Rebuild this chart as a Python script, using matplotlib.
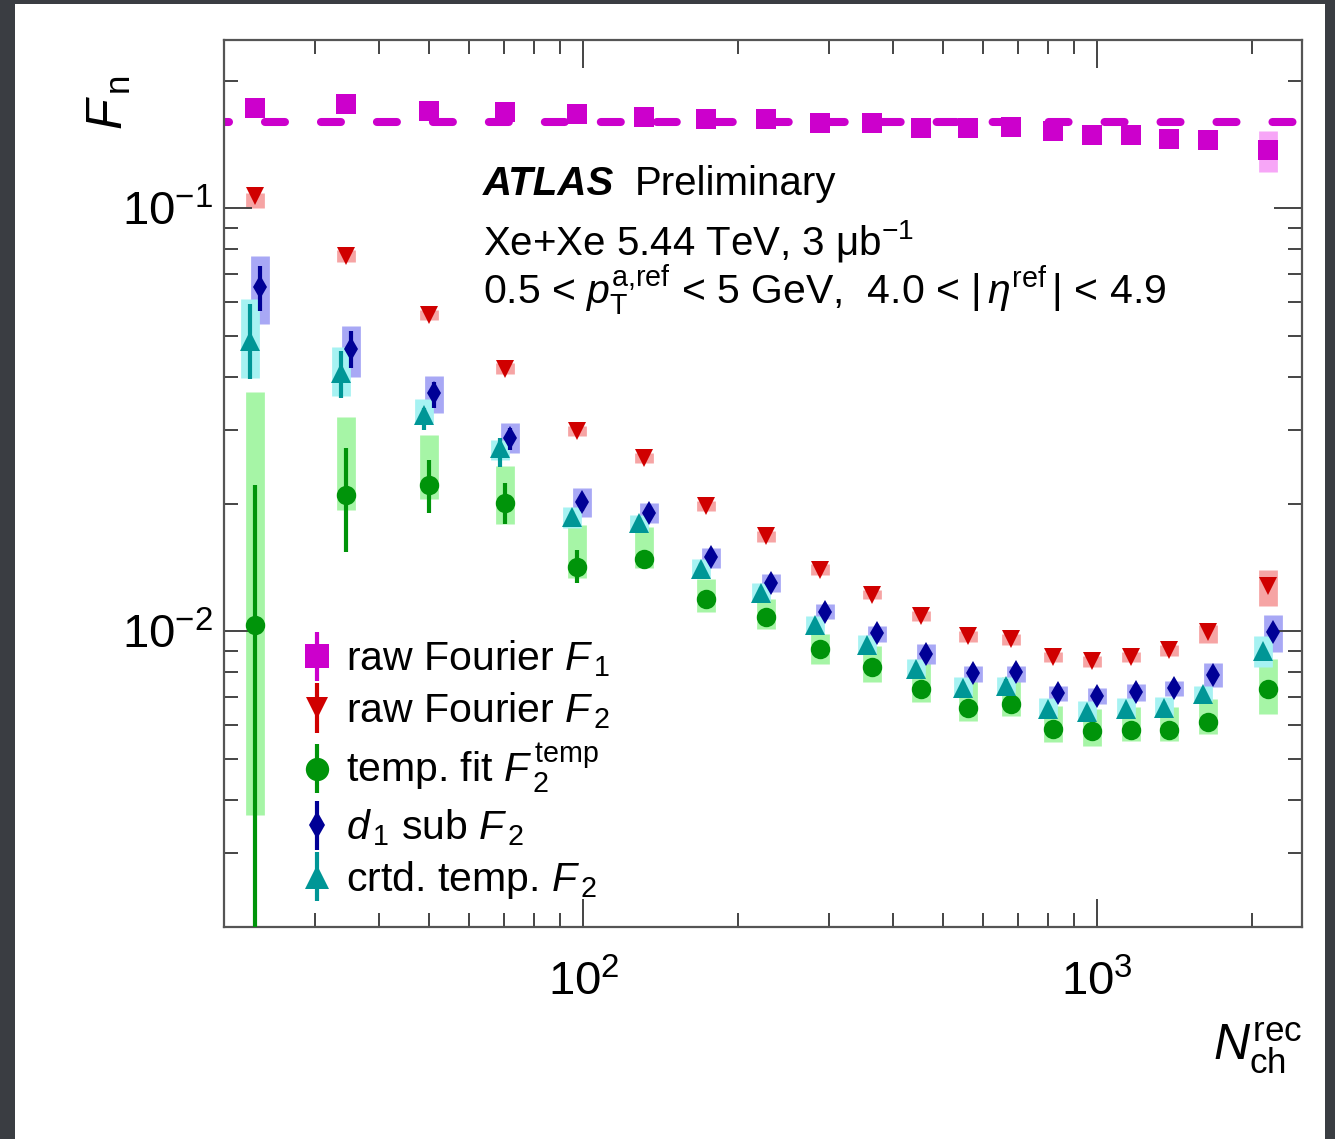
import matplotlib
matplotlib.use('Agg')
import matplotlib.pyplot as plt
import matplotlib.transforms as mtransforms
from matplotlib.ticker import NullFormatter, LogFormatterSciNotation, LogLocator
from matplotlib.legend_handler import HandlerErrorbar
from matplotlib.container import ErrorbarContainer

plt.rcParams['font.family'] = ['Liberation Sans', 'DejaVu Sans']
plt.rcParams['mathtext.fontset'] = 'custom'
plt.rcParams['mathtext.rm'] = 'Liberation Sans'
plt.rcParams['mathtext.it'] = 'Liberation Sans:italic'
plt.rcParams['mathtext.bf'] = 'Liberation Sans:bold'
plt.rcParams['lines.scale_dashes'] = False

# N_ch^rec bin centres
nch = [23, 34.5, 50, 70.5, 97, 131, 173, 227, 289, 364, 453, 559, 678, 818, 978, 1164, 1380, 1643, 2148]

# raw Fourier F1
f1_raw = [0.173, 0.176, 0.170, 0.169, 0.167, 0.164, 0.163, 0.163, 0.159, 0.159,
          0.155, 0.155, 0.156, 0.152, 0.149, 0.149, 0.146, 0.145, 0.137]
f1_stat_lo = [0.171, 0.174, 0.168, 0.167, 0.165, 0.162, 0.161, 0.161, 0.157, 0.157,
              0.153, 0.153, 0.154, 0.150, 0.147, 0.147, 0.144, 0.143, 0.134]
f1_stat_hi = [0.175, 0.178, 0.172, 0.171, 0.169, 0.166, 0.165, 0.165, 0.161, 0.161,
              0.157, 0.157, 0.158, 0.154, 0.151, 0.151, 0.148, 0.147, 0.140]
f1_sys_lo = [0.170, 0.173, 0.167, 0.166, 0.164, 0.161, 0.160, 0.160, 0.156, 0.156,
             0.152, 0.152, 0.153, 0.149, 0.146, 0.146, 0.143, 0.142, 0.122]
f1_sys_hi = [0.176, 0.179, 0.173, 0.172, 0.170, 0.167, 0.166, 0.166, 0.162, 0.162,
             0.158, 0.158, 0.159, 0.155, 0.152, 0.152, 0.149, 0.148, 0.1525]
f1_level = 0.16

# raw Fourier F2
f2_raw = [0.1067, 0.0771, 0.0560, 0.0418, 0.0297, 0.0257, 0.0198, 0.0168, 0.0140, 0.01222,
          0.01085, 0.00973, 0.00958, 0.00869, 0.00850, 0.00869, 0.00902, 0.00995, 0.01283]
f2_stat_lo = [0.1050, 0.0760, 0.0553, 0.0413, 0.0294, 0.0254, 0.0196, 0.0166, 0.0139, 0.0121,
              0.01075, 0.00965, 0.00950, 0.00862, 0.00843, 0.00862, 0.00894, 0.00985, 0.0126]
f2_stat_hi = [0.1085, 0.0782, 0.0567, 0.0423, 0.0300, 0.0260, 0.0200, 0.0170, 0.0141, 0.0123,
              0.01095, 0.00981, 0.00966, 0.00876, 0.00857, 0.00876, 0.00910, 0.01005, 0.0131]
f2_sys_lo = [0.100, 0.0745, 0.0545, 0.0405, 0.0289, 0.0250, 0.0193, 0.0163, 0.0136, 0.0119,
             0.01055, 0.00945, 0.00930, 0.00845, 0.00825, 0.00845, 0.00875, 0.00938, 0.01145]
f2_sys_hi = [0.1085, 0.0795, 0.0575, 0.0430, 0.0305, 0.0264, 0.0203, 0.0173, 0.0144, 0.01255,
             0.01115, 0.0100, 0.00985, 0.00893, 0.00875, 0.00893, 0.00930, 0.01033, 0.0140]

# template fit F2^temp
f2_temp = [0.01033, 0.0210, 0.0222, 0.0201, 0.01422, 0.01485, 0.01190, 0.01079, 0.00907, 0.00823,
           0.00730, 0.00659, 0.00673, 0.00588, 0.00582, 0.00584, 0.00584, 0.00611, 0.00730]
temp_stat_lo = [0.0012, 0.0154, 0.0190, 0.0179, 0.0130, 0.0142, 0.0115, 0.0105, 0.0088, 0.0080,
                0.0071, 0.0064, 0.0065, 0.0057, 0.0056, 0.0057, 0.0057, 0.0059, 0.0071]
temp_stat_hi = [0.0222, 0.0271, 0.0254, 0.0224, 0.0156, 0.0155, 0.0123, 0.0111, 0.0093, 0.0085,
                0.0075, 0.0068, 0.0069, 0.0060, 0.0060, 0.0060, 0.0060, 0.0063, 0.0075]
temp_sys_lo = [0.00367, 0.01936, 0.02056, 0.0179, 0.0134, 0.01415, 0.01114, 0.01011, 0.00837, 0.00759,
               0.00681, 0.00614, 0.00631, 0.00548, 0.00536, 0.00549, 0.00549, 0.00572, 0.00638]
temp_sys_hi = [0.0367, 0.0321, 0.0291, 0.0246, 0.01786, 0.01766, 0.01326, 0.0119, 0.00984, 0.00922,
               0.00846, 0.00771, 0.0078, 0.00666, 0.00655, 0.00663, 0.00663, 0.00692, 0.00859]

# d1-subtracted F2
d1_sub = [0.0652, 0.0466, 0.0365, 0.0286, 0.0202, 0.01905, 0.01501, 0.01304, 0.01108, 0.00989,
          0.00883, 0.00797, 0.00800, 0.00715, 0.00703, 0.00717, 0.00734, 0.00788, 0.00995]
d1_stat_lo = [0.0572, 0.0420, 0.0338, 0.0268, 0.0193, 0.0185, 0.0146, 0.0127, 0.0108, 0.0096,
              0.0086, 0.0078, 0.0078, 0.0070, 0.0069, 0.0070, 0.0072, 0.0077, 0.0097]
d1_stat_hi = [0.0730, 0.0514, 0.0388, 0.0302, 0.0211, 0.0196, 0.0154, 0.0134, 0.0114, 0.0102,
              0.0091, 0.0082, 0.0082, 0.0073, 0.0072, 0.0073, 0.0075, 0.0081, 0.0102]
d1_sys_lo = [0.0533, 0.0400, 0.0328, 0.0264, 0.01865, 0.01804, 0.01415, 0.01242, 0.01067, 0.00942,
             0.00837, 0.00759, 0.00759, 0.00684, 0.00675, 0.00684, 0.00705, 0.00738, 0.00893]
d1_sys_hi = [0.0771, 0.0528, 0.0402, 0.0310, 0.0218, 0.0201, 0.01577, 0.01369, 0.01158, 0.01027,
             0.00932, 0.00827, 0.00830, 0.00743, 0.00735, 0.00750, 0.00765, 0.00841, 0.01091]

# corrected template F2
crtd = [0.0487, 0.0407, 0.0324, 0.0271, 0.01865, 0.01804, 0.01407, 0.01235, 0.01033, 0.00927,
        0.00814, 0.00734, 0.00743, 0.00655, 0.00645, 0.00655, 0.00659, 0.00711, 0.00897]
crtd_stat_lo = [0.0396, 0.0357, 0.0299, 0.0245, 0.0180, 0.0175, 0.0137, 0.0120, 0.0101, 0.0090,
                0.0079, 0.0071, 0.0072, 0.0064, 0.0063, 0.0064, 0.0064, 0.0069, 0.0087]
crtd_stat_hi = [0.0594, 0.0461, 0.0337, 0.0286, 0.0193, 0.0186, 0.0145, 0.0127, 0.0106, 0.0095,
                0.0084, 0.0076, 0.0077, 0.0067, 0.0066, 0.0067, 0.0068, 0.0073, 0.0092]
crtd_sys_lo = [0.0398, 0.0361, 0.0310, 0.0254, 0.01757, 0.01719, 0.0134, 0.01177, 0.00984, 0.00883,
               0.00783, 0.00704, 0.00713, 0.00627, 0.00617, 0.00627, 0.00630, 0.00684, 0.00823]
crtd_sys_hi = [0.0611, 0.0469, 0.0355, 0.0283, 0.01968, 0.01885, 0.01485, 0.01304, 0.01085, 0.00979,
               0.00859, 0.0078, 0.0078, 0.00696, 0.00684, 0.00696, 0.00700, 0.00743, 0.00973]

series = [
    # values, stat lo, stat hi, sys lo, sys hi, marker, size, colour, box colour, label, shift(pt)
    (f1_raw, f1_stat_lo, f1_stat_hi, f1_sys_lo, f1_sys_hi, 's', 14, '#cc00cc', '#f7a6f7',
     r'raw Fourier $F_{\,1}$', 0),
    (f2_raw, f2_stat_lo, f2_stat_hi, f2_sys_lo, f2_sys_hi, 'v', 13, '#d00000', '#f6a4a4',
     r'raw Fourier $F_{\,2}$', 0),
    (f2_temp, temp_stat_lo, temp_stat_hi, temp_sys_lo, temp_sys_hi, 'o', 14, '#00940a', '#a6f5a6',
     r'temp. fit $F_{\,2}^{\,\mathrm{temp}}$', 0),
    (d1_sub, d1_stat_lo, d1_stat_hi, d1_sys_lo, d1_sys_hi, 'd', 12, '#000096', '#a8a8f5',
     r'$d_{\,1}$ sub $F_{\,2}$', 3.6),
    (crtd, crtd_stat_lo, crtd_stat_hi, crtd_sys_lo, crtd_sys_hi, '^', 14, '#009696', '#a6f2f2',
     r'crtd. temp. $F_{\,2}$', -3.6),
]

W, H = 1335, 1139
fig = plt.figure(figsize=(W / 100, H / 100), dpi=100)
fig.patch.set_facecolor('#3a3d42')
fig.add_artist(plt.Rectangle((15 / W, 0), 1310 / W, 1135 / H, transform=fig.transFigure,
                             facecolor='white', edgecolor='none', zorder=0))

ax = fig.add_axes([224 / W, 1 - 927 / H, 1078 / W, 887 / H])
ax.set_xscale('log')
ax.set_yscale('log')
ax.set_xlim(20, 2500)
ax.set_ylim(0.002, 0.25)

# dashed reference level of F1
ax.axhline(f1_level, color='#cc00cc', lw=5.8, linestyle=(10.8, (14.4, 25.9)),
           dash_capstyle='round', zorder=2)

handles = []
for vals, slo, shi, ylo, yhi, mk, ms, col, boxcol, lab, dx in series:
    trans = ax.transData + mtransforms.ScaledTranslation(dx / 72, 0, fig.dpi_scale_trans)
    ax.vlines(nch, ylo, yhi, colors=boxcol, linewidth=13.5, capstyle='butt',
              transform=trans, zorder=1)
    yerr = [[v - lo for v, lo in zip(vals, slo)], [hi - v for v, hi in zip(vals, shi)]]
    eb = ax.errorbar(nch, vals, yerr=yerr, fmt=mk, ms=ms, color=col, ecolor=col,
                     elinewidth=3, capsize=0, markeredgewidth=0, transform=trans,
                     zorder=3, label=lab)
    handles.append(eb)

ax.set_xlim(20, 2500)
ax.set_ylim(0.002, 0.25)

# ticks in ROOT style
ax.xaxis.set_major_locator(LogLocator(base=10, numticks=10))
ax.xaxis.set_minor_locator(LogLocator(base=10, subs=range(2, 10), numticks=20))
ax.yaxis.set_minor_locator(LogLocator(base=10, subs=range(2, 10), numticks=20))
ax.xaxis.set_major_formatter(LogFormatterSciNotation())
ax.yaxis.set_major_formatter(LogFormatterSciNotation())
ax.xaxis.set_minor_formatter(NullFormatter())
ax.yaxis.set_minor_formatter(NullFormatter())
ax.tick_params(which='both', direction='in', top=True, right=True, color='#444444', width=1.4)
ax.tick_params(which='major', length=20, labelsize=34)
ax.tick_params(axis='x', which='major', pad=24)
ax.tick_params(axis='y', which='major', pad=8)
ax.tick_params(which='minor', length=10)
for sp in ax.spines.values():
    sp.set_linewidth(1.6)
    sp.set_color('#555555')

ax.text(-0.106, 0.96, r'$F_{\,\mathrm{n}}$', transform=ax.transAxes, rotation=90,
        ha='center', va='top', fontsize=36)
ax.text(1.0, -0.105, r'$N_{\mathrm{ch}}^{\mathrm{rec}}$', transform=ax.transAxes,
        ha='right', va='top', fontsize=36)

# labels
ax.text(0.2403, 0.8250, 'ATLAS', transform=ax.transAxes, fontsize=29,
        fontweight='bold', fontstyle='italic', va='baseline')
ax.text(0.381, 0.8250, 'Preliminary', transform=ax.transAxes, fontsize=29, va='baseline')
ax.text(0.2403, 0.7585, 'Xe+Xe 5.44 TeV, 3 \u03bcb$^{\\mathrm{-1}}$', transform=ax.transAxes,
        fontsize=29, va='baseline')
ax.text(0.2403, 0.7020,
        r'0.5 < $p_{\mathrm{T}}^{\mathrm{a{,}ref}}$ < 5 GeV,  4.0 < $|\,\eta^{\mathrm{ref}}\,|$ < 4.9',
        transform=ax.transAxes, fontsize=29.5, va='baseline')

ax.legend(handles=handles, loc='upper left', bbox_to_anchor=(0.071, 0.325),
          frameon=False, fontsize=29.5, handlelength=0.78, handletextpad=0.32,
          labelspacing=0.27, borderpad=0, borderaxespad=0, markerscale=1.2,
          handler_map={ErrorbarContainer: HandlerErrorbar(yerr_size=0.6)})

fig.savefig('out.png', dpi=100, facecolor=fig.get_facecolor())
